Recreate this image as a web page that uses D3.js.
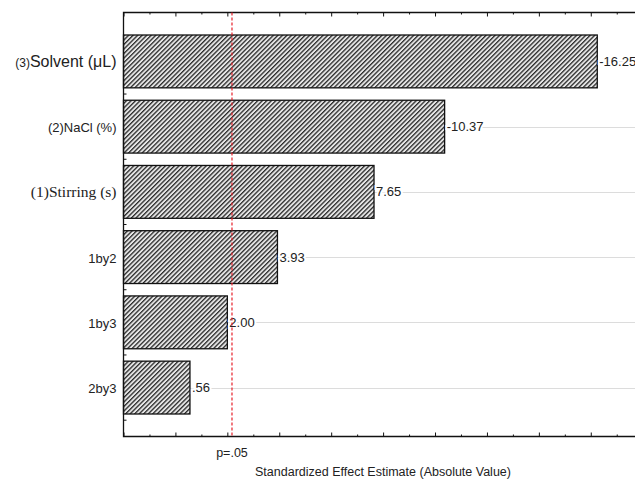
<!DOCTYPE html>
<html>
<head>
<meta charset="utf-8">
<script src="https://cdn.jsdelivr.net/npm/d3@7"></script>
<style>
  html, body { margin: 0; padding: 0; background: #fff; }
  svg { display: block; }
</style>
</head>
<body>
<script>
// Pareto chart of standardized effects
const categories = ["(3)Solvent (μL)", "(2)NaCl (%)", "(1)Stirring (s)", "1by2", "1by3", "2by3"];
const effects = [16.25, 10.37, 7.65, 3.93, 2.00, 0.56];
const effectLabels = ["-16.25", "-10.37", "7.65", "3.93", "2.00", ".56"];
const pValue = 2.179;            // critical t for p=.05
const pLabel = "p=.05";
const xTitle = "Standardized Effect Estimate (Absolute Value)";
const majorTicks = [-2, 0, 2, 4, 6, 8, 10, 12, 14, 16, 18];
const minorTicks = [-1, 1, 3, 5, 7, 9, 11, 13, 15, 17];

// label styling per category (fonts differ in the original figure)
const labelStyle = [
    { pre: "(3)", preSize: 12, main: "Solvent (μL)", size: 16, family: "Liberation Sans, Arial, sans-serif" },
    { pre: "", preSize: 13, main: "(2)NaCl (%)", size: 13, family: "Liberation Sans, Arial, sans-serif" },
    { pre: "", preSize: 15, main: "(1)Stirring (s)", size: 15.5, family: "Liberation Serif, Times New Roman, serif" },
    { pre: "", preSize: 13, main: "1by2", size: 13, family: "Liberation Sans, Arial, sans-serif" },
    { pre: "", preSize: 13, main: "1by3", size: 13, family: "Liberation Sans, Arial, sans-serif" },
    { pre: "", preSize: 13, main: "2by3", size: 13, family: "Liberation Sans, Arial, sans-serif" }
];

const W = 635, H = 483;
const plotLeft = 123.5, plotTop = 12.5, plotBottom = 436.5;

const svg = d3.select("body").append("svg")
    .attr("width", W)
    .attr("height", H);

// hatch pattern
const defs = svg.append("defs");
const pat = defs.append("pattern")
    .attr("id", "hatch")
    .attr("patternUnits", "userSpaceOnUse")
    .attr("width", 3.2)
    .attr("height", 3.2)
    .attr("patternTransform", "rotate(45)");
pat.append("rect").attr("width", 3.2).attr("height", 3.2).attr("fill", "#e6e6e6");
pat.append("rect").attr("width", 1.3).attr("height", 3.2).attr("fill", "#2a2a2a");

// scales
const x = d3.scaleLinear()
    .domain([-2, 18.5])
    .range([plotLeft, plotLeft + 20.5 * 25.96]);

const y = d3.scaleBand()
    .domain(categories)
    .range([plotTop, plotBottom])
    .paddingInner(0.19)
    .paddingOuter(0.345);

// gridlines at category centres
svg.append("g")
    .selectAll("line")
    .data(categories)
    .join("line")
    .attr("x1", plotLeft)
    .attr("x2", W)
    .attr("y1", d => Math.round(y(d) + y.bandwidth() / 2) + 0.5)
    .attr("y2", d => Math.round(y(d) + y.bandwidth() / 2) + 0.5)
    .attr("stroke", "#b8b8b8")
    .attr("stroke-width", 1)
    .attr("stroke-dasharray", "1,1");

// bars
svg.append("g")
    .selectAll("rect")
    .data(effects)
    .join("rect")
    .attr("x", x(-2))
    .attr("y", (d, i) => y(categories[i]))
    .attr("width", d => x(d) - x(-2))
    .attr("height", y.bandwidth())
    .attr("fill", "url(#hatch)")
    .attr("stroke", "#111")
    .attr("stroke-width", 1.3);

// value labels
svg.append("g")
    .selectAll("text")
    .data(effects)
    .join("text")
    .attr("x", d => x(d) + 2)
    .attr("y", (d, i) => y(categories[i]) + y.bandwidth() / 2)
    .attr("dy", "0.35em")
    .attr("font-family", "Liberation Sans, Arial, sans-serif")
    .attr("font-size", 13)
    .attr("fill", "#222")
    .attr("stroke", "#fff")
    .attr("stroke-width", 4)
    .attr("paint-order", "stroke")
    .text((d, i) => effectLabels[i]);

// category labels
const catText = svg.append("g")
    .selectAll("text")
    .data(categories)
    .join("text")
    .attr("x", plotLeft - 7)
    .attr("y", d => y(d) + y.bandwidth() / 2)
    .attr("dy", "0.35em")
    .attr("text-anchor", "end")
    .attr("fill", "#222")
    .attr("font-family", (d, i) => labelStyle[i].family);
catText.each(function(d, i) {
    const s = labelStyle[i];
    const t = d3.select(this);
    if (s.pre) t.append("tspan").attr("font-size", s.preSize).text(s.pre);
    t.append("tspan").attr("font-size", s.size).text(s.main);
});

// frame: left, top, bottom
svg.append("path")
    .attr("d", `M${W},${plotTop}H${plotLeft}V${plotBottom}H${W}`)
    .attr("fill", "none")
    .attr("stroke", "#111")
    .attr("stroke-width", 1.3);

// inward ticks on bottom and top
const bottomAxis = d3.axisTop(x).tickValues(majorTicks).tickSize(4).tickFormat("");
const bottomMinor = d3.axisTop(x).tickValues(minorTicks).tickSize(2).tickFormat("");
const topAxis = d3.axisBottom(x).tickValues(majorTicks).tickSize(4).tickFormat("");
const topMinor = d3.axisBottom(x).tickValues(minorTicks).tickSize(2).tickFormat("");
[[bottomAxis, plotBottom], [bottomMinor, plotBottom], [topAxis, plotTop], [topMinor, plotTop]].forEach(([ax, yy]) => {
    const g = svg.append("g").attr("transform", `translate(0,${yy})`).call(ax);
    g.select(".domain").remove();
    g.selectAll("line").attr("stroke", "#111");
});

// left axis ticks at band boundaries
const bounds = categories.slice(1).map(c => y(c) - y.step() * y.paddingInner() / 2)
    .concat([y(categories[categories.length - 1]) + y.bandwidth() + y.step() * y.paddingInner() / 2]);
svg.append("g")
    .selectAll("line")
    .data(bounds)
    .join("line")
    .attr("x1", plotLeft)
    .attr("x2", plotLeft + 3)
    .attr("y1", d => d)
    .attr("y2", d => d)
    .attr("stroke", "#111");

// p=.05 reference line
svg.append("line")
    .attr("x1", x(pValue))
    .attr("x2", x(pValue))
    .attr("y1", plotTop)
    .attr("y2", plotBottom)
    .attr("stroke", "#e8202a")
    .attr("stroke-width", 1.2)
    .attr("stroke-dasharray", "3,2");

svg.append("text")
    .attr("x", x(pValue))
    .attr("y", 457)
    .attr("text-anchor", "middle")
    .attr("font-family", "Liberation Sans, Arial, sans-serif")
    .attr("font-size", 12.5)
    .attr("fill", "#222")
    .text(pLabel);

svg.append("text")
    .attr("x", 383)
    .attr("y", 476)
    .attr("text-anchor", "middle")
    .attr("font-family", "Liberation Sans, Arial, sans-serif")
    .attr("font-size", 12.5)
    .attr("fill", "#222")
    .text(xTitle);
</script>
</body>
</html>
